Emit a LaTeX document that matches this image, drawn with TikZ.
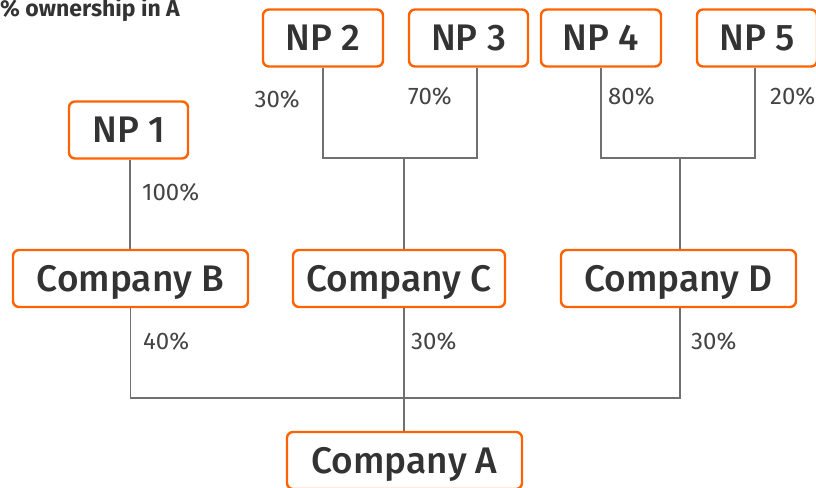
\documentclass[tikz,border=0pt]{standalone}
\usepackage{fontspec}
\setmainfont{Fira Sans}
\newfontfamily\medfont{Fira Sans Medium}
\begin{document}
\begin{tikzpicture}[x=1pt,y=-1pt,
  box/.style={draw=ingorange,line width=2.4pt,rounded corners=6pt,fill=white,
    inner sep=0pt,text=textdark,font=\medfont\fontsize{37}{42}\selectfont,minimum height=57pt,
    text height=25pt,text depth=0pt},
  conn/.style={draw=linegray,line width=1.8pt},
  pct/.style={text=pctgray,font=\fontsize{24}{28}\selectfont,inner sep=0pt}]
\definecolor{ingorange}{HTML}{FF6200}
\definecolor{textdark}{HTML}{333333}
\definecolor{linegray}{HTML}{707070}
\definecolor{pctgray}{HTML}{444444}
\useasboundingbox (0,0) rectangle (816,487);
\node[inner sep=0pt,anchor=base west,text=textdark,font=\bfseries\fontsize{23}{26}\selectfont] (title) at (0,16.5) {\% ownership in A};
% connectors
\coordinate (jC) at (404,158);
\coordinate (jD) at (680,158);
\coordinate (jA) at (404,398);
\node[box,minimum width=119pt] (np1) at (128.5,130) {NP 1};
\node[box,minimum width=120pt] (np2) at (323,38) {NP 2};
\node[box,minimum width=119pt] (np3) at (468.5,38) {NP 3};
\node[box,minimum width=120pt] (np4) at (601,38) {NP 4};
\node[box,minimum width=120pt] (np5) at (757,38) {NP 5};
\node[box,minimum width=235pt] (cb) at (130.5,278.5) {Company B};
\node[box,minimum width=212pt] (cc) at (399,278.5) {Company C};
\node[box,minimum width=235pt] (cd) at (678.5,278.5) {Company D};
\node[box,minimum width=235pt] (ca) at (404.5,460.5) {Company A};
\draw[conn] ([xshift=1.5pt]np1.south) -- ([xshift=1.5pt]np1.south |- cb.north);
\draw[conn] (np2.south) |- (jC);
\draw[conn] ([xshift=8.5pt]np3.south) |- (jC);
\draw[conn] (jC) -- (jC |- cc.north);
\draw[conn] (np4.south) |- (jD);
\draw[conn] ([xshift=-2pt]np5.south) |- (jD);
\draw[conn] (jD) -- (jD |- cd.north);
\draw[conn] (cb.south) |- (jA);
\draw[conn] (cd.south -| jD) |- (jA);
\draw[conn] (cc.south -| jA) -- (ca.north -| jA);
% labels
\node[pct,anchor=base east] (l2) at (300,107) {30\%};
\node[pct,anchor=base east] (l3) at (452,104) {70\%};
\node[pct,anchor=base west] (l4) at (608,104) {80\%};
\node[pct,anchor=base west] (l5) at (770,104) {20\%};
\node[pct,anchor=base west] (l1) at (142,200) {100\%};
\node[pct,anchor=base west] (lb) at (143,349) {40\%};
\node[pct,anchor=base west] (lc) at (411,349) {30\%};
\node[pct,anchor=base west] (ld) at (691,349) {30\%};
\end{tikzpicture}
\end{document}
